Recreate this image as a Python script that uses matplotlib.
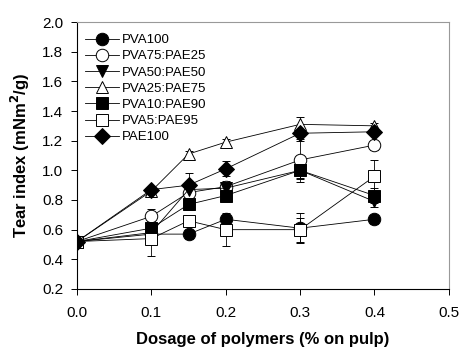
import matplotlib
matplotlib.use("Agg")
import matplotlib.pyplot as plt
from matplotlib.lines import Line2D
import numpy as np

plt.rcParams['font.family'] = ['Liberation Sans', 'DejaVu Sans']

dosage = [0.0, 0.1, 0.15, 0.2, 0.3, 0.4]
names = ["PVA100", "PVA75:PAE25", "PVA50:PAE50", "PVA25:PAE75",
         "PVA10:PAE90", "PVA5:PAE95", "PAE100"]
pva100 = [0.52, 0.57, 0.57, 0.67, 0.61, 0.67]
pva75 = [0.52, 0.69, 0.85, 0.89, 1.07, 1.17]
pva50 = [0.52, 0.58, 0.87, 0.88, 1.00, 0.79]
pva25 = [0.52, 0.86, 1.11, 1.19, 1.31, 1.30]
pva10 = [0.52, 0.61, 0.77, 0.83, 1.00, 0.83]
pva5 = [0.52, 0.54, 0.66, 0.60, 0.60, 0.96]
pae100 = [0.52, 0.87, 0.90, 1.01, 1.25, 1.26]

err100 = [0.02, 0.02, 0.03, 0.03, 0.10, 0.03]
err75 = [0.02, 0.05, 0.03, 0.04, 0.13, 0.03]
err50 = [0.02, 0.03, 0.03, 0.03, 0.05, 0.04]
err25 = [0.02, 0.03, 0.02, 0.02, 0.05, 0.02]
err10 = [0.02, 0.03, 0.04, 0.03, 0.08, 0.05]
err5 = [0.02, 0.12, 0.04, 0.11, 0.08, 0.11]
errpae = [0.02, 0.02, 0.08, 0.05, 0.04, 0.02]

series = [pva100, pva75, pva50, pva25, pva10, pva5, pae100]
errors = [err100, err75, err50, err25, err10, err5, errpae]
markers = ['o', 'o', 'v', '^', 's', 's', 'D']
faces = ['black', 'white', 'black', 'white', 'black', 'white', 'black']
sizes = [9, 9, 9, 9, 8, 8, 8]

fig = plt.figure(figsize=(4.71, 3.59), dpi=100)
ax = fig.add_axes([0.1635, 0.195, 0.953 - 0.1635, 0.9387 - 0.195])

handles = []
for name, y, e, m, fc, ms in zip(names, series, errors, markers, faces, sizes):
    ax.errorbar(dosage, y, yerr=e, color='black', lw=0.6, elinewidth=0.6,
                capsize=3, capthick=0.6, marker=m, mfc=fc, mec='black',
                mew=0.7, ms=ms)
    handles.append(Line2D([], [], color='black', lw=0.6, marker=m, mfc=fc,
                          mec='black', mew=0.7, ms=ms, label=name))

ax.set_xlim(0, 0.5)
ax.set_ylim(0.2, 2.0)
ax.set_xticks([0.0, 0.1, 0.2, 0.3, 0.4, 0.5])
ax.set_xticklabels(["0.0", "0.1", "0.2", "0.3", "0.4", "0.5"])
ax.set_yticks(np.round(np.arange(0.2, 2.01, 0.2), 1))
ax.set_yticklabels([f"{v:.1f}" for v in np.arange(0.2, 2.01, 0.2)])
ax.tick_params(direction='out', length=4, width=0.7, labelsize=11, pad=6)
ax.tick_params(axis='x', pad=8)
for s in ['top', 'right']:
    ax.spines[s].set_color('#999999')
    ax.spines[s].set_linewidth(0.8)
for s in ['left', 'bottom']:
    ax.spines[s].set_linewidth(0.8)

ax.set_xlabel("Dosage of polymers (% on pulp)", fontsize=12, fontweight='bold', labelpad=9)
ax.set_ylabel("Tear index (mNm$^\\mathbf{2}$/g)", fontsize=12, fontweight='bold', labelpad=7)

leg = ax.legend(handles=handles, loc='upper left', frameon=False, fontsize=9.5,
                handlelength=2.6, labelspacing=0.3, borderaxespad=0.2,
                handletextpad=0.2, bbox_to_anchor=(0.0, 0.985))

fig.savefig("out.png", dpi=100)
